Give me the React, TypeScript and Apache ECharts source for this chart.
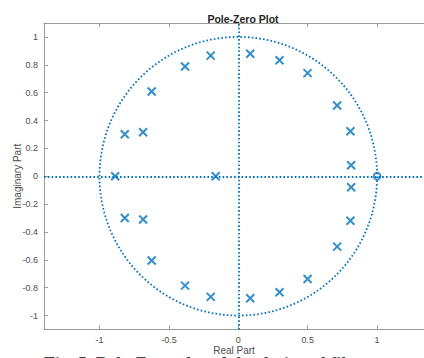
import React, { useEffect, useRef } from "react";
import * as echarts from "echarts";

const title = "Pole-Zero Plot";
const xName = "Real Part";
const yName = "Imaginary Part";
const caption = "Fig. 5. Pole-Zero plot of the designed filter";

const xTicks = [-1, -0.5, 0, 0.5, 1];
const yTicks = [-1, -0.8, -0.6, -0.4, -0.2, 0, 0.2, 0.4, 0.6, 0.8, 1];

// poles (x markers)
const poleRe = [
  -0.887, -0.163,
  -0.818, -0.686, -0.624, -0.384, -0.199, 0.086, 0.297, 0.499, 0.712, 0.808, 0.813,
  -0.818, -0.686, -0.624, -0.384, -0.199, 0.086, 0.297, 0.499, 0.712, 0.808, 0.813,
];
const poleIm = [
  0, 0,
  0.302, 0.316, 0.608, 0.788, 0.866, 0.879, 0.833, 0.74, 0.508, 0.323, 0.079,
  -0.3, -0.31, -0.605, -0.785, -0.866, -0.876, -0.833, -0.737, -0.505, -0.32, -0.079,
];
// zeros (o markers)
const zeroRe = [1];
const zeroIm = [0];
// unit circle: center x, center y, radius
const unitCircle = [[0, 0, 1]];

const BLUE = "#0072BD";
const AXIS = "#9a9a9a";
const LABEL = "#4d4d4d";
const FONT = "Liberation Sans, Arial, sans-serif";
const DOT = [1.6, 2.2];

export default function App() {
  const ref = useRef<HTMLDivElement>(null);
  useEffect(() => {
    const chart = echarts.init(ref.current!, null, { renderer: "svg" });
    const xAxisBase = {
      type: "value",
      min: -1.4,
      max: 1.338,
      splitLine: { show: false },
      axisLine: { show: true, onZero: false, lineStyle: { color: AXIS, width: 1 } },
      axisTick: { show: true, inside: true, length: 4, customValues: xTicks, lineStyle: { color: AXIS } },
    };
    chart.setOption({
      animation: false,
      title: {
        text: title,
        left: 238,
        textAlign: "center",
        top: 8,
        textStyle: { fontFamily: FONT, fontSize: 10.5, fontWeight: "bold", color: "#222" },
      },
      grid: { left: 44, top: 23, right: 0, bottom: 28.5, outerBoundsMode: "none", containLabel: false },
      xAxis: [
        {
          ...xAxisBase,
          position: "bottom",
          name: xName,
          nameLocation: "middle",
          nameGap: 16,
          nameMoveOverlap: false,
          nameTextStyle: { fontFamily: FONT, fontSize: 10, color: LABEL },
          axisLabel: {
            customValues: xTicks,
            margin: 6,
            fontFamily: FONT,
            fontSize: 9,
            color: LABEL,
          },
        },
        {
          ...xAxisBase,
          position: "top",
          axisLabel: { show: false },
        },
      ],
      yAxis: [
        {
          type: "value",
          min: -1.1,
          max: 1.1,
          splitLine: { show: false },
          name: yName,
          nameLocation: "middle",
          nameGap: 22,
          nameMoveOverlap: false,
          nameTextStyle: { fontFamily: FONT, fontSize: 10, color: LABEL },
          axisLine: { show: true, onZero: false, lineStyle: { color: AXIS, width: 1 } },
          axisTick: { show: true, inside: true, length: 4, customValues: yTicks, lineStyle: { color: AXIS } },
          axisLabel: {
            customValues: yTicks,
            margin: 6,
            fontFamily: FONT,
            fontSize: 9,
            color: LABEL,
          },
        },
      ],
      graphic: [
        {
          type: "text",
          left: 44,
          top: 355,
          z: -10,
          style: { text: caption, font: "bold 18px 'Liberation Serif', serif", fill: "#444" },
        },
      ],
      series: [
        {
          type: "custom",
          data: unitCircle,
          encode: { x: 0, y: 1 },
          silent: true,
          renderItem: (params: any, api: any) => {
            const c = api.coord([api.value(0), api.value(1)]);
            const s = api.size([api.value(2), api.value(2)]);
            return {
              type: "ellipse",
              shape: { cx: c[0], cy: c[1], rx: s[0], ry: s[1] },
              style: { fill: "none", stroke: BLUE, lineWidth: 1.8, lineDash: DOT },
            };
          },
          z: 1,
        },
        {
          type: "scatter",
          data: poleRe.map((x, i) => [x, poleIm[i]]),
          symbol: "path://M0,0L10,10M10,0L0,10",
          symbolSize: 8,
          itemStyle: { color: "none", borderColor: BLUE, borderWidth: 2 },
          silent: true,
          z: 3,
          markLine: {
            silent: true,
            symbol: "none",
            label: { show: false },
            lineStyle: { color: BLUE, width: 1.8, type: DOT },
            data: [{ xAxis: 0 }, { yAxis: 0 }],
          },
        },
        {
          type: "scatter",
          data: zeroRe.map((x, i) => [x, zeroIm[i]]),
          symbol: "circle",
          symbolSize: 7,
          itemStyle: { color: "none", borderColor: BLUE, borderWidth: 1.8 },
          silent: true,
          z: 3,
        },
      ],
    });
    return () => chart.dispose();
  }, []);
  return <div ref={ref} style={{ width: 424, height: 358, position: "absolute", left: 0, top: 0 }} />;
}
